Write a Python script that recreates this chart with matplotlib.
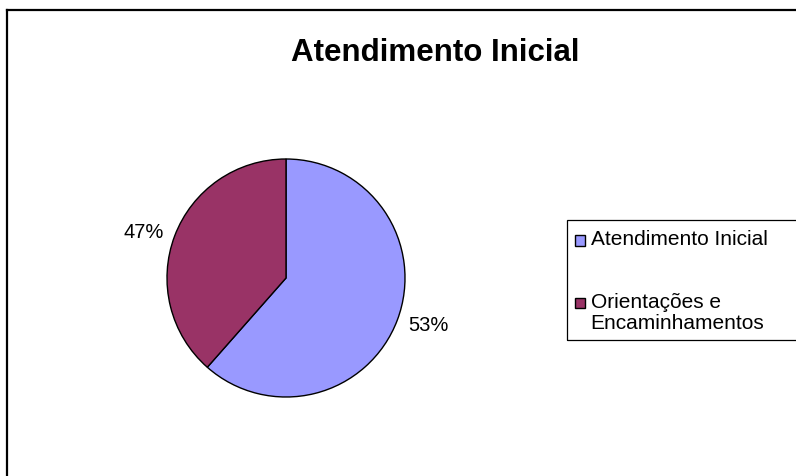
import matplotlib.pyplot as plt
from matplotlib.patches import Rectangle
from matplotlib.lines import Line2D
from matplotlib.legend_handler import HandlerPatch

plt.rcParams['font.family'] = ['Liberation Sans', 'DejaVu Sans']

# data
title = 'Atendimento Inicial'
categories = ['Atendimento Inicial', 'Orientações e\nEncaminhamentos']
values = [61.5, 38.5]          # slice sizes as drawn
pct_labels = ['53%', '47%']    # labels as printed on the chart
colors = ['#9999FF', '#993366']

W, H = 796, 477
fig = plt.figure(figsize=(W / 100, H / 100), dpi=100)

def fx(px):
    return px / W

def fy(py):
    return 1 - py / H

# outer frame (left and top edges visible)
fig.add_artist(Line2D([fx(6.5), fx(6.5)], [fy(10.5), fy(H + 5)], color='black', lw=1.6))
fig.add_artist(Line2D([fx(6.5), fx(W + 5)], [fy(10.5), fy(10.5)], color='black', lw=1.6))

fig.text(fx(435), fy(53), title, ha='center', va='center',
         fontsize=22.5, fontweight='bold')

# pie
ax = fig.add_axes([fx(167), fy(398), fx(405) - fx(167), fy(160) - fy(398)])
wedges, texts = ax.pie(values, labels=pct_labels, colors=colors, startangle=90,
                       counterclock=False, labeldistance=1.1,
                       wedgeprops=dict(edgecolor='black', linewidth=1.0),
                       textprops=dict(fontsize=14.5))
ax.set_xlim(-1, 1)
ax.set_ylim(-1, 1)
ax.set_aspect('equal')

# legend box
fig.add_artist(Rectangle((fx(566.5), fy(341)), fx(W + 10) - fx(566.5), fy(220.5) - fy(341),
                         transform=fig.transFigure, fill=False, edgecolor='black', lw=0.9))


def square(legend, orig_handle, xdescent, ydescent, width, height, fontsize):
    # small square sitting at the bottom of the handle box
    return Rectangle((-xdescent, -ydescent), width, width)


leg = fig.legend(wedges, categories, loc='upper left',
                 bbox_to_anchor=(fx(575), fy(230)), bbox_transform=fig.transFigure,
                 frameon=False, fontsize=15, borderpad=0, borderaxespad=0,
                 handlelength=0.5, handleheight=0.85, handletextpad=0.25,
                 labelspacing=2.1,
                 handler_map={w: HandlerPatch(patch_func=square) for w in wedges})
for t in leg.get_texts():
    t.set_linespacing(1.15)
# keep each square level with the first line of its label
for col in leg._legend_handle_box.get_children():
    for row in col.get_children():
        row.align = 'top'

fig.savefig('out.png', dpi=100)
